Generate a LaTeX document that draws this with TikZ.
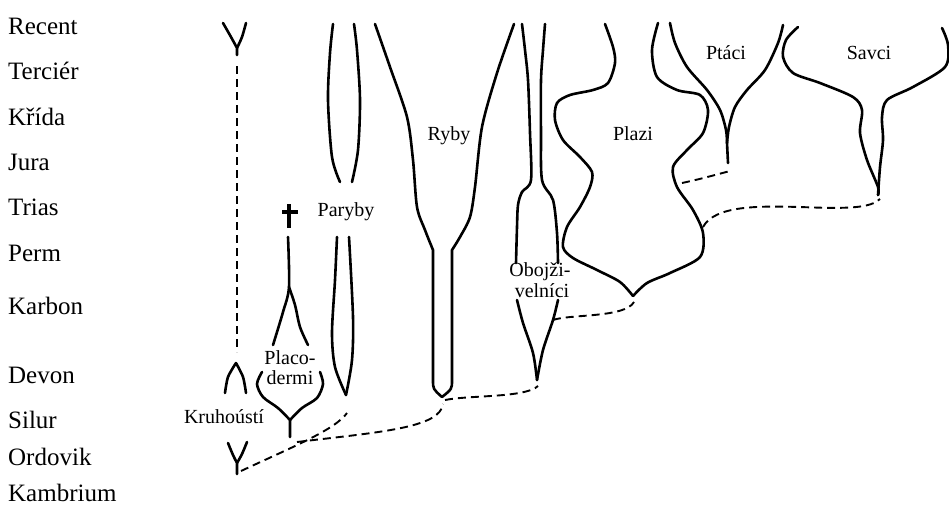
\documentclass[tikz,border=0pt]{standalone}
\usepackage{fontspec}
\setmainfont{Liberation Serif}
\usepackage{tikz}
\usepackage{xcolor}

\tikzset{
  branch/.style={line width=2.6pt, line cap=round, line join=round},
  link/.style={line width=1.9pt, dash pattern=on 8pt off 5pt},
  era/.style={anchor=base west, inner sep=0pt, font=\fontsize{25}{25}\selectfont},
  taxon/.style={anchor=base, inner sep=0pt, font=\fontsize{20}{20}\selectfont}
}

\begin{document}
\begin{tikzpicture}[x=1pt,y=-1pt]
  \useasboundingbox (0,0) rectangle (949,506);
  % geological eras
  \node[era] (recent) at (8,34) {Recent};
  \node[era] (tercier) at (8,79) {Terciér};
  \node[era] (krida) at (8,125) {Křída};
  \node[era] (jura) at (8,170) {Jura};
  \node[era] (trias) at (8,215) {Trias};
  \node[era] (perm) at (8,261) {Perm};
  \node[era] (karbon) at (8,314) {Karbon};
  \node[era] (devon) at (8,383) {Devon};
  \node[era] (silur) at (8,428) {Silur};
  \node[era] (ordovik) at (8,465) {Ordovik};
  \node[era] (kambrium) at (8,501) {Kambrium};

  % Kruhousti
  \draw[branch] plot[smooth] coordinates {(223,23) (231,37) (237,48)} -- (237,55);
  \draw[branch] plot[smooth] coordinates {(246,23) (242,37) (237,48)};
  \draw[link] (237,66) -- (237,352);
  \draw[branch] plot[smooth] coordinates {(225,393) (228,377) (236,363)};
  \draw[branch] plot[smooth] coordinates {(236,363) (243,377) (246,393)};
  \draw[branch] plot[smooth] coordinates {(228,443) (233,455) (237,463)} -- (237,474);
  \draw[branch] plot[smooth] coordinates {(247,442) (242,454) (237,463)};
  \node[taxon] (kruh) at (224,423) {Kruhoústí};

  % Placodermi
  \draw[branch, line width=3.2pt, line cap=butt] (282,212) -- (298,212);
  \draw[branch, line width=3.2pt, line cap=butt] (289,204) -- (289,228);
  \draw[branch] plot[smooth] coordinates {(288,237) (289,287) (283,312) (273,345)};
  \draw[branch] plot[smooth] coordinates {(289,287) (295,305) (300,327) (308,345)};
  \draw[branch] plot[smooth] coordinates {(262,372) (257,384) (263,397) (278,408) (290,420)} -- (290,437);
  \draw[branch] plot[smooth] coordinates {(320,372) (323,384) (317,398) (302,408) (290,420)};
  \node[taxon] (placo) at (290,364) {Placo-};
  \node[taxon] (dermi) at (290,384) {dermi};

  % Paryby
  \draw[branch] plot[smooth] coordinates {(333,24) (330,53) (328,100) (332,157) (340,182)};
  \draw[branch] plot[smooth] coordinates {(354,24) (357,50) (360,100) (358,150) (352,182)};
  \draw[branch] plot[smooth] coordinates {(337,237) (335,280) (332,333) (335,367) (346,395)};
  \draw[branch] plot[smooth] coordinates {(349,237) (353,317) (352,360) (346,395)};
  \node[taxon] (paryby) at (346,216) {Paryby};

  % Ryby
  \draw[branch] plot[smooth] coordinates {(375,24) (390,67) (407,117) (413,160) (417,207) (425,230) (433,250)}
    -- (433,380) .. controls (433,389) .. (442,397);
  \draw[branch] plot[smooth] coordinates {(514,24) (497,73) (482,127) (475,187) (470,217) (460,237) (452,250)}
    -- (452,380) .. controls (452,389) .. (442,397);
  \node[taxon] (ryby) at (449,140) {Ryby};

  % Obojzivelnici
  \draw[branch] plot[smooth] coordinates {(522,24) (525,50) (528,80) (530,133) (531,180) (522,192) (518,205) (517,227) (516,263)};
  \draw[branch] plot[smooth] coordinates {(545,24) (543,50) (541,80) (541,133) (542,180) (553,200) (557,233) (558,263)};
  \draw[branch] plot[smooth] coordinates {(517,300) (523,323) (533,353) (537,380)};
  \draw[branch] plot[smooth] coordinates {(558,300) (553,320) (543,350) (537,380)};
  \node[taxon] (oboj) at (540,276) {Obojži-};
  \node[taxon] (velnici) at (542,297) {velníci};

  % Plazi
  \draw[branch] plot[smooth] coordinates {(605,24) (613,47) (615,63) (608,83) (593,90) (570,95) (557,103) (555,120) (563,140) (580,157) (592,172) (590,187) (580,207) (567,227) (563,247) (573,258) (597,270) (620,282) (633,296)};
  \draw[branch] plot[smooth] coordinates {(658,23) (652,50) (657,77) (677,90) (700,95) (708,110) (703,133) (687,150) (673,167) (677,187) (693,210) (703,233) (700,257) (670,273) (647,283) (633,296)};
  \node[taxon] (plazi) at (633,140) {Plazi};

  % Ptaci
  \draw[branch] plot[smooth] coordinates {(670,23) (675,43) (687,67) (707,90) (720,110) (726,130) (727,143)} -- (728,163);
  \draw[branch] plot[smooth] coordinates {(783,25) (778,43) (765,70) (747,90) (735,107) (729,127) (727,143)};
  \node[taxon] (ptaci) at (726,59) {Ptáci};

  % Savci
  \draw[branch] plot[smooth] coordinates {(798,27) (786,40) (783,57) (793,73) (820,83) (853,97) (862,110) (860,133) (867,160) (878,187) (878,195)};
  \draw[branch] plot[smooth] coordinates {(942,28) (948,45) (945,67) (913,87) (887,100) (882,117) (883,140) (880,167) (878,195)};
  \node[taxon] (savci) at (869,59) {Savci};

  % links
  \draw[link] (241,471) .. controls (290,448) and (335,430) .. (347,413);
  \draw[link] (297,442) .. controls (380,432) and (440,428) .. (443,404);
  \draw[link] (445,400) .. controls (470,395) and (525,398) .. (538,386);
  \draw[link] (553,320) .. controls (570,314) and (625,318) .. (634,302);
  \draw[link] (682,183) .. controls (700,179) .. (730,171);
  \draw[link] (703,227) .. controls (715,205) and (760,206) .. (800,207)
    .. controls (850,209) and (870,208) .. (880,199);
\end{tikzpicture}
\end{document}
